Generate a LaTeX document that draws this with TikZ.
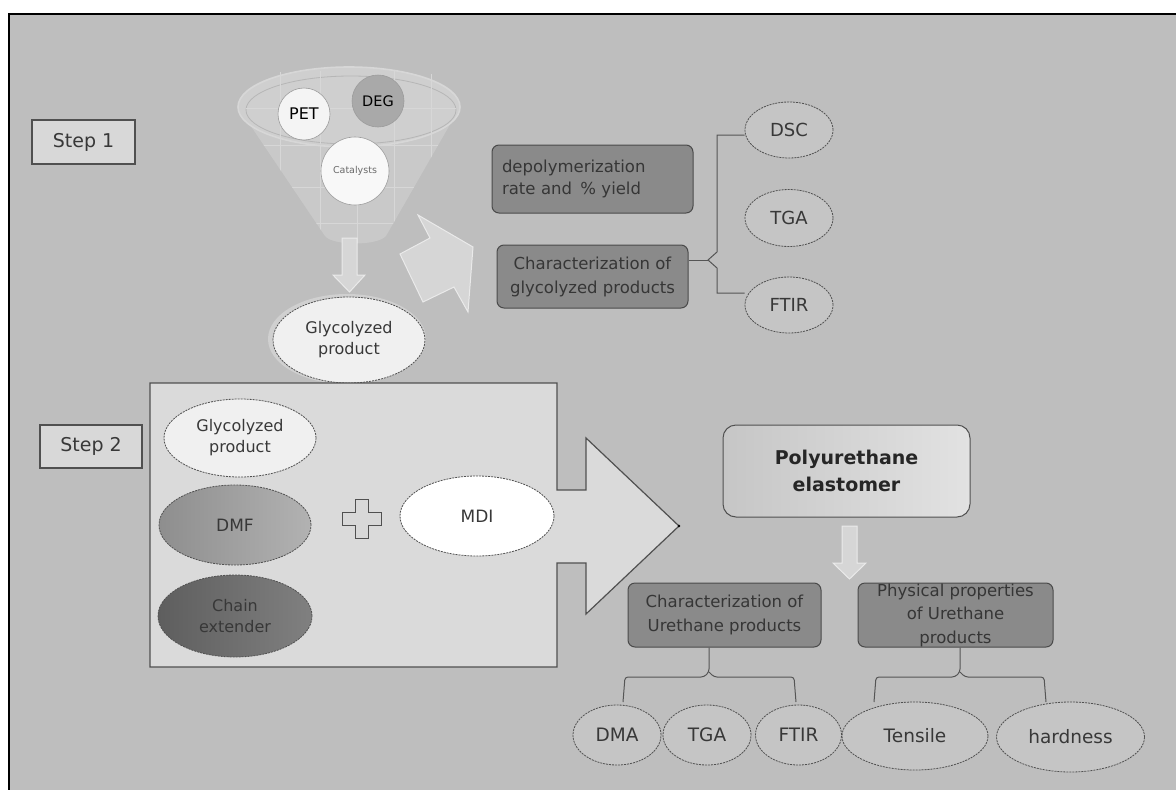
\documentclass[tikz,border=0pt]{standalone}
\usepackage{fontspec}
\setmainfont{DejaVu Sans}
\usetikzlibrary{shapes.geometric}
\definecolor{bg}{HTML}{BEBEBE}
\definecolor{edge}{HTML}{505050}
\definecolor{txt}{HTML}{383838}
\definecolor{stepfill}{HTML}{D8D8D8}
\definecolor{darkfill}{HTML}{8A8A8A}
\definecolor{darkedge}{HTML}{4A4A4A}
\definecolor{darktxt}{HTML}{363636}
\definecolor{ovalfill}{HTML}{C5C5C5}
\definecolor{paleoval}{HTML}{F0F0F0}
\definecolor{boxfill}{HTML}{DADADA}
\definecolor{funnelfill}{HTML}{C9C9C9}
\definecolor{funnelrim}{HTML}{CFCFCF}
\definecolor{funnelgrid}{HTML}{D7D7D7}
\definecolor{rimline}{HTML}{B6B6B6}
\definecolor{arrowfill}{HTML}{D6D6D6}
\definecolor{arrowedge}{HTML}{EAEAEA}
\definecolor{petfill}{HTML}{F4F4F4}
\definecolor{degfill}{HTML}{A9A9A9}
\definecolor{catfill}{HTML}{F8F8F8}
\definecolor{cattxt}{HTML}{6A6A6A}
\definecolor{circedge}{HTML}{9C9C9C}
\definecolor{dmfleft}{HTML}{8E8E8E}
\definecolor{dmfright}{HTML}{B2B2B2}
\definecolor{chainleft}{HTML}{5E5E5E}
\definecolor{chainright}{HTML}{808080}
\definecolor{publeft}{HTML}{C6C6C6}
\definecolor{pubright}{HTML}{E2E2E2}
\definecolor{bracecol}{HTML}{555555}
\definecolor{halo}{HTML}{D0D0D0}
\begin{document}
\begin{tikzpicture}[x=1pt,y=-1pt,
  stepbox/.style={draw=edge, fill=stepfill, line width=1.2pt, minimum width=103pt, minimum height=44pt, inner sep=0pt, text=txt, font=\fontsize{19}{23}\selectfont},
  darkbox/.style={draw=darkedge, fill=darkfill, rounded corners=7pt, line width=1pt, inner sep=0pt, text=darktxt, font=\fontsize{16.5}{24}\selectfont, align=center},
  oval/.style={ellipse, draw=edge, dash pattern=on 2pt off 1pt, line width=0.8pt, inner sep=0pt, text=txt, align=center},
  bgoval/.style={oval, fill=ovalfill, font=\fontsize{18}{22}\selectfont},
  inoval/.style={oval, font=\fontsize{16}{21}\selectfont},
  blockarrow/.style={fill=arrowfill, draw=arrowedge, line width=1pt},
  bracket/.style={draw=bracecol, line width=1pt},
  ball/.style={circle, inner sep=0pt, draw=circedge, line width=0.6pt}
]
\useasboundingbox (0,0) rectangle (1176,790);
\fill[white] (0,0) rectangle (1176,790);
\fill[bg] (9,14) rectangle (1176,790);
\draw[line width=2.2pt] (9.2,790) -- (9.2,14.2) -- (1176,14.2);

% ---------- Step 1 ----------
\node[stepbox] (step1) at (83.5,142) {Step 1};

% funnel
\path[fill=funnelfill] (238,107) -- (325,236) .. controls (333,246) and (377,246) .. (386,236) -- (460,107) .. controls (460,53.7) and (238,53.7) .. (238,107) -- cycle;
\begin{scope}
  \clip (238,107) -- (325,236) .. controls (333,246) and (377,246) .. (386,236) -- (460,107) .. controls (460,53.7) and (238,53.7) .. (238,107) -- cycle;
  \draw[funnelgrid, line width=0.8pt] (280,50) -- (280,250) (320,50) -- (320,250) (357,50) -- (357,250) (394,50) -- (394,250) (431,50) -- (431,250)
     (230,145) -- (470,145) (230,187) -- (470,187) (230,223) -- (470,223);
\end{scope}
\draw[draw=funnelgrid, line width=1.6pt, fill=funnelrim] (349,107) ellipse [x radius=111, y radius=40];
\draw[draw=rimline, line width=0.8pt] (351,110) ellipse [x radius=105, y radius=34];
\draw[funnelgrid, line width=0.8pt] (280,72) -- (280,142) (320,71) -- (320,144) (394,71) -- (394,144) (431,74) -- (431,140) (246,108) -- (456,108);

\node[ball, fill=catfill, minimum size=68pt, text=cattxt, font=\fontsize{9.5}{10}\selectfont] (cat) at (355,171) {Catalysts};
\node[ball, fill=petfill, minimum size=52pt, text=black, font=\fontsize{16}{16}\selectfont] (pet) at (304,114) {PET};
\node[ball, fill=degfill, minimum size=52pt, text=black, font=\fontsize{14.5}{15}\selectfont] (deg) at (378,101) {DEG};

% stem arrow to glycolyzed product
\path[blockarrow] (342,238) -- (357,238) -- (357,275) -- (365,275) -- (349.5,292) -- (333,275) -- (342,275) -- cycle;

\fill[halo] (347,339) ellipse [x radius=79, y radius=45];
\node[inoval, fill=paleoval, minimum width=152pt, minimum height=86pt] (gp1) at (349,340) {Glycolyzed\\product};

% arrow toward analyses
\path[blockarrow] (400,254) -- (430,238) -- (418,215) -- (473,247) -- (468,312) -- (454,287) -- (423,302) -- cycle;

% dark boxes top
\node[darkbox, text width=181pt, inner xsep=10pt, minimum height=68pt, align=left, font=\fontsize{16.5}{22}\selectfont] (dep) at (592.5,179) {depolymerization\\rate and\ \,\% yield};
\node[darkbox, minimum width=191pt, minimum height=63pt] (ch1) at (592.5,276.5) {Characterization of\\glycolyzed products};

% analysis ellipses top
\node[bgoval, minimum width=88pt, minimum height=56pt] (dsc) at (789,130) {DSC};
\node[bgoval, minimum width=88pt, minimum height=57pt] (tga1) at (789,218) {TGA};
\node[bgoval, minimum width=88pt, minimum height=56pt] (ftir1) at (789,305) {FTIR};

\coordinate (n1) at (708,260);
\draw[bracket] (ch1.east |- n1) -- (n1);
\draw[bracket] (dsc.west |- 0,135) -- (717,135) -- (717,252) -- (n1) -- (717,268) -- (717,293) -- (ftir1.west |- 0,293);

% ---------- Step 2 ----------
\node[stepbox, minimum width=102pt, minimum height=43pt] (step2) at (91,446.5) {Step 2};

\path[fill=boxfill, draw=edge, line width=1.2pt] (150,383) -- (557,383) -- (557,490) -- (586,490) -- (586,438) -- (679,526) -- (586,614) -- (586,563) -- (557,563) -- (557,667) -- (150,667) -- cycle;
\coordinate (bigtip) at (679,526);
\fill[black] (bigtip) circle (1.3pt);

\node[inoval, fill=paleoval, minimum width=152pt, minimum height=78pt] (gp2) at (240,438) {Glycolyzed\\product};
\node[inoval, left color=dmfleft, right color=dmfright, minimum width=152pt, minimum height=80pt, font=\fontsize{17}{21}\selectfont] (dmf) at (235,525) {DMF};
\node[inoval, left color=chainleft, right color=chainright, minimum width=154pt, minimum height=82pt] (chain) at (235,616) {Chain\\extender};
\node[inoval, fill=white, minimum width=154pt, minimum height=80pt, font=\fontsize{17}{21}\selectfont] (mdi) at (477,516) {MDI};

\coordinate (plus) at (362,519);
\path[fill=stepfill, draw=edge, line width=1pt] ([shift={(-6.5,-19.5)}]plus) -- ++(13,0) -- ++(0,13) -- ++(13,0) -- ++(0,13) -- ++(-13,0) -- ++(0,13) -- ++(-13,0) -- ++(0,-13) -- ++(-13,0) -- ++(0,-13) -- ++(13,0) -- cycle;

% Polyurethane elastomer
\node[draw=edge, line width=1pt, rounded corners=13pt, left color=publeft, right color=pubright, minimum width=247pt, minimum height=92pt, inner sep=0pt, text=black!85, align=center, font=\fontsize{19}{27}\bfseries\selectfont] (pu) at (846.5,471) {Polyurethane\\elastomer};

\path[blockarrow] (842,526) -- (857,526) -- (857,563) -- (866,563) -- (849.5,579) -- (833,563) -- (842,563) -- cycle;

\node[darkbox, minimum width=193pt, minimum height=64pt] (ch2) at (724.5,615) {Characterization of\\Urethane products};
\node[darkbox, minimum width=195pt, minimum height=64pt] (phys) at (955.5,615) {};
\node[text=darktxt, align=center, inner sep=0pt, font=\fontsize{16.5}{23.5}\selectfont] (physt) at (phys.center) {Physical properties\\of Urethane\\products};

% bottom ellipses
\node[bgoval, minimum width=88pt, minimum height=60pt, font=\fontsize{18.5}{22}\selectfont] (dma) at (617,735) {DMA};
\node[bgoval, minimum width=88pt, minimum height=60pt, font=\fontsize{18.5}{22}\selectfont] (tga2) at (707,735) {TGA};
\node[bgoval, minimum width=86pt, minimum height=60pt, font=\fontsize{18.5}{22}\selectfont] (ftir2) at (798.5,735) {FTIR};
\node[bgoval, minimum width=146pt, minimum height=68pt, font=\fontsize{18.5}{22}\selectfont] (tens) at (915,736) {Tensile};
\node[bgoval, minimum width=148pt, minimum height=70pt, font=\fontsize{18.5}{22}\selectfont] (hard) at (1070.5,737) {hardness};

% lower brackets
\draw[bracket, rounded corners=3pt] (ch2.south -| 709,0) -- (709,672) -- (704,677) -- (625,677) -- (623,702);
\draw[bracket, rounded corners=3pt] (709,672) -- (714,677) -- (794,677) -- (796,702);
\draw[bracket, rounded corners=3pt] (phys.south -| 960,0) -- (960,672) -- (955,677) -- (876,677) -- (874,702);
\draw[bracket, rounded corners=3pt] (960,672) -- (965,677) -- (1044,677) -- (1046,702);
\end{tikzpicture}
\end{document}
